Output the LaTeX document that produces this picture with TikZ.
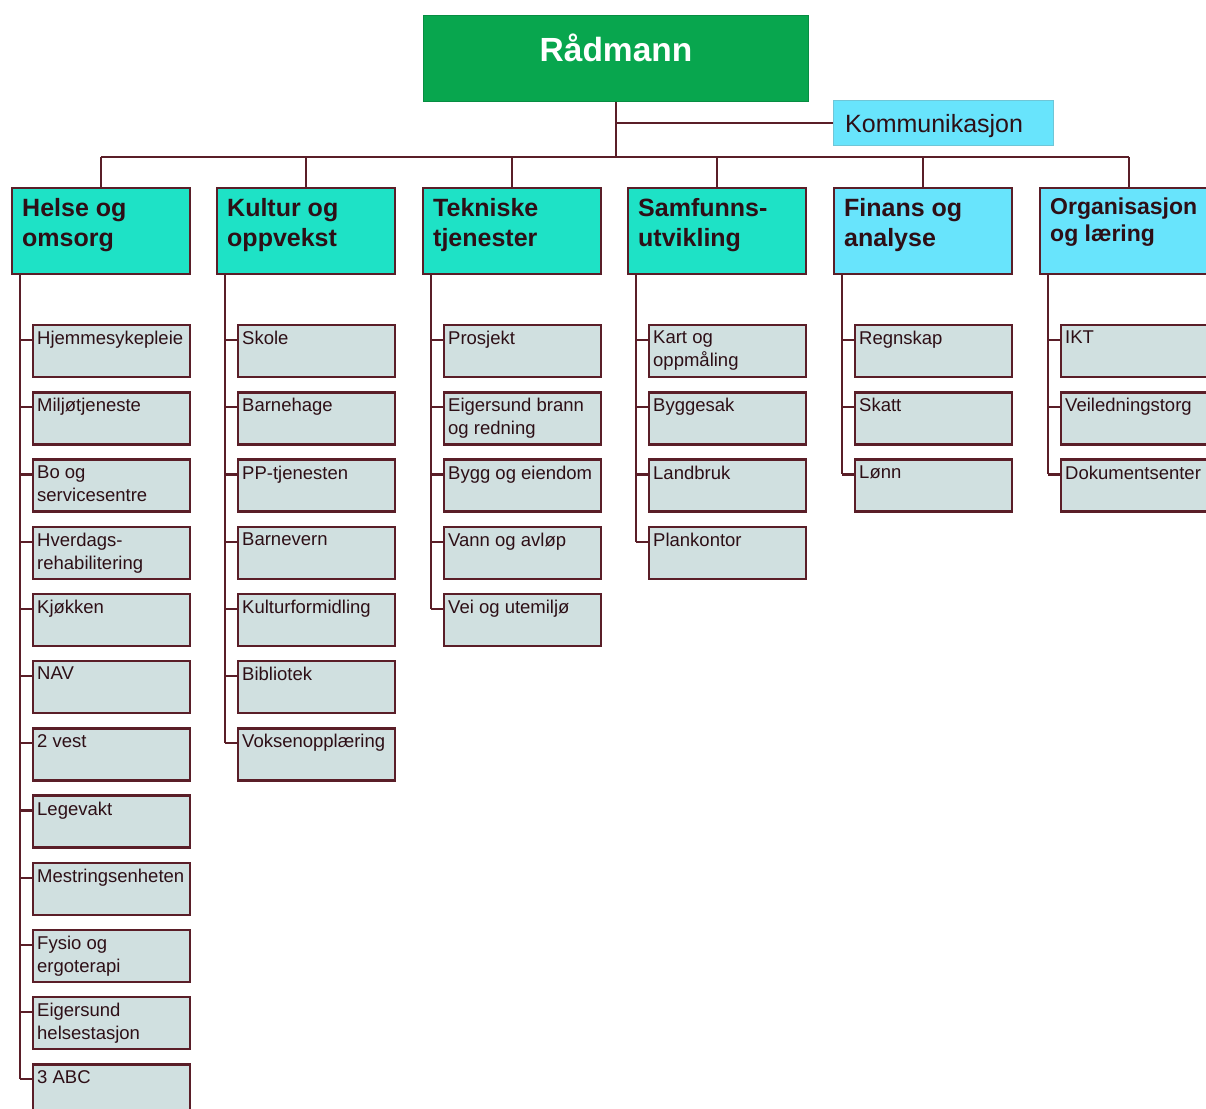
\documentclass[tikz,border=0pt]{standalone}
\usepackage{fontspec}
\setmainfont{Liberation Sans}
\definecolor{radgreen}{RGB}{8,166,78}
\definecolor{turq}{RGB}{30,226,198}
\definecolor{lcyan}{RGB}{104,228,252}
\definecolor{chfill}{RGB}{208,224,224}
\definecolor{maroon}{RGB}{90,30,40}
\definecolor{dtext}{RGB}{45,15,22}
\tikzset{
  conn/.style={draw=maroon, line width=2.2},
  hdbox/.style={draw=maroon, line width=2.4, minimum width=178, minimum height=86, inner sep=0},
  hdtext/.style={font=\fontsize{25}{30}\selectfont\bfseries, text=dtext, align=left, inner sep=0},
  chbox/.style={draw=maroon, line width=2.4, fill=chfill, minimum width=157, minimum height=52, inner sep=0},
  chtext/.style={font=\fontsize{18.5}{23}\selectfont, text=dtext, align=left, inner sep=0},
}
\newcommand\mkcol[6]{%
  \node[hdbox, fill=#3, anchor=north west] (h#1) at (#2+1,187) {};
  \node[hdtext, #6, anchor=north west] (ht#1) at (#2+12,198) {#4};
  \foreach \t [count=\i from 0] in {#5} {
    \node[chbox, anchor=north west] (c#1-\i) at (#2+22, 324+67.2*\i) {};
    \node[chtext, anchor=north west] (ct#1-\i) at (#2+27, 331+67.2*\i) {\t};
    \coordinate (k#1-\i) at (#2+10, 340+67.2*\i);
    \draw[conn] (k#1-\i) -- (c#1-\i.west |- k#1-\i);
    \xdef\lastk{k#1-\i}
  }
  \draw[conn] (h#1.south -| k#1-0) -- (\lastk);
  \draw[conn] (h#1.north) -- (h#1.north |- bus);
}
\begin{document}
\begin{tikzpicture}[x=1pt,y=-1pt]
\useasboundingbox (0,0) rectangle (1206,1108);
\clip (0,0) rectangle (1206,1108);
\fill[white] (0,0) rectangle (1206,1108);
\node[fill=radgreen, draw=radgreen!85!black, line width=1, minimum width=385, minimum height=86, anchor=north west, inner sep=0] (rad) at (423,15) {};
\node[font=\fontsize{33.5}{38}\selectfont\bfseries, text=white, anchor=base, inner sep=0] (radt) at (rad.center |- 0,62) {Rådmann};
\node[fill=lcyan, draw=lcyan!70!gray, line width=1, minimum width=220, minimum height=45, anchor=north west, inner sep=0] (komm) at (833,100) {};
\node[font=\fontsize{25}{29}\selectfont, text=dtext, anchor=base west, inner sep=0] (kommt) at (845,132) {Kommunikasjon};
\coordinate (bus) at (616,157);
\draw[conn] (rad.south) -- (bus);
\draw[conn] (rad.south |- komm.west) -- (komm.west);
\mkcol{1}{10}{turq}{Helse og\\omsorg}{Hjemmesykepleie,Miljøtjeneste,{Bo og\\servicesentre},{Hverdags-\\rehabilitering},Kjøkken,NAV,2 vest,Legevakt,Mestringsenheten,{Fysio og\\ergoterapi},{Eigersund\\helsestasjon},3 ABC}{}
\mkcol{2}{215}{turq}{Kultur og\\oppvekst}{Skole,Barnehage,PP-tjenesten,Barnevern,Kulturformidling,Bibliotek,Voksenopplæring}{}
\mkcol{3}{421}{turq}{Tekniske\\tjenester}{Prosjekt,{Eigersund brann\\og redning},Bygg og eiendom,Vann og avløp,Vei og utemiljø}{}
\mkcol{4}{626}{turq}{Samfunns-\\utvikling}{{Kart og\\oppmåling},Byggesak,Landbruk,Plankontor}{}
\mkcol{5}{832}{lcyan}{Finans og\\analyse}{Regnskap,Skatt,Lønn}{}
\mkcol{6}{1038}{lcyan}{Organisasjon\\og læring}{IKT,Veiledningstorg,Dokumentsenter}{font=\fontsize{23}{27}\selectfont\bfseries}
\draw[conn] (h1.north |- bus) -- (h6.north |- bus);
\end{tikzpicture}
\end{document}
